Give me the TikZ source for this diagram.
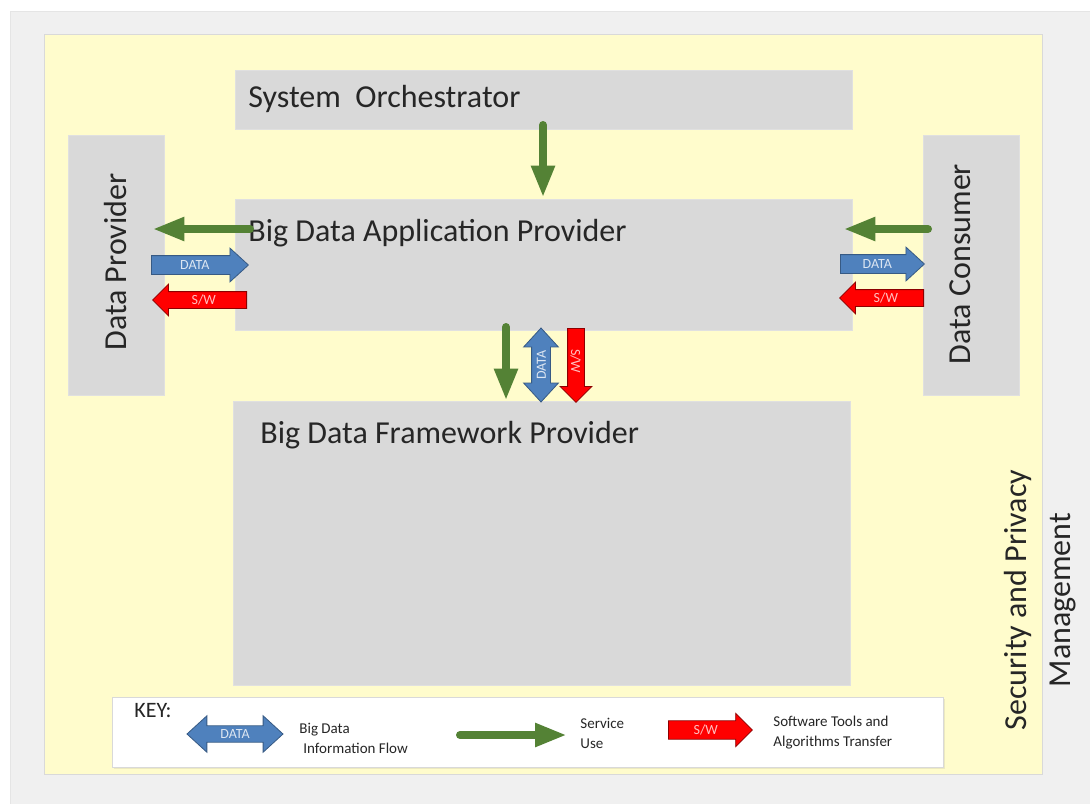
\documentclass[tikz,border=0pt]{standalone}
\usepackage{fontspec}
\setmainfont{Carlito}
\usetikzlibrary{shapes.arrows,arrows.meta,fit,shadows}
\definecolor{paper}{HTML}{F0F0F0}
\definecolor{secyellow}{HTML}{FFFCCC}
\definecolor{boxgray}{HTML}{D9D9D9}
\definecolor{svcgreen}{HTML}{548235}
\definecolor{datablue}{HTML}{4F81BD}
\definecolor{swred}{HTML}{FF0000}
\definecolor{ink}{HTML}{262626}
\tikzset{
  role/.style={draw=black!12, fill=boxgray, inner sep=0pt},
  roletitle/.style={anchor=west, inner sep=0pt, text=ink, font=\fontsize{16}{18}\selectfont},
  service/.style={draw=svcgreen, line width=4pt, line cap=round,
    -{Triangle[width=11pt,length=16pt]}},
  tagfont/.style={font=\fontsize{7}{8}\selectfont, text height=4.8pt, text depth=0pt,
    inner xsep=1pt},
  dataarrow/.style={single arrow, tagfont, draw=datablue!70!black, fill=datablue,
    text=white!80!datablue, single arrow tip angle=85, single arrow head extend=3.75pt,
    inner ysep=2.1pt},
  swarrow/.style={single arrow, tagfont, draw=swred!55!black, fill=swred,
    text=white!75!swred, single arrow tip angle=90, single arrow head extend=3.75pt,
    inner ysep=1.6pt},
  dataflow/.style={double arrow, tagfont, draw=datablue!70!black, fill=datablue,
    text=white!80!datablue, double arrow tip angle=85, double arrow head extend=4pt,
    inner ysep=2.1pt},
  keytext/.style={anchor=west, align=left, inner sep=0pt, text=ink,
    font=\fontsize{7.5}{10}\selectfont}
}
\begin{document}
\begin{tikzpicture}[x=0.5pt,y=-0.5pt]
\useasboundingbox (0,0) rectangle (1090,803);
\fill[white] (0,0) rectangle (1090,803);
\filldraw[fill=paper, draw=black!10] (10,11) rectangle (1095,810);
\filldraw[fill=secyellow, draw=black!15] (44,34) rectangle (1042,774);

% boxes
\node[role, fit={(235,70) (852,129)}] (orch) {};
\node[role, fit={(235,199) (852,330)}] (app) {};
\node[role, fit={(233,401) (850,685)}] (frame) {};
\node[role, fit={(68,135) (164,395)}] (provider) {};
\node[role, fit={(923,135) (1019,395)}] (consumer) {};

\node[roletitle] (orchname) at (248,99) {System\ \ Orchestrator};
\node[roletitle] (appname) at (248,233) {Big Data Application Provider};
\node[roletitle] (framename) at (260,435) {Big Data Framework Provider};
\node[roletitle, anchor=center, rotate=90] (providername) at (116,262) {Data Provider};
\node[roletitle, anchor=center, rotate=90] (consumername) at (960,264) {Data Consumer};
\node[rotate=90, align=center, text=ink, font=\fontsize{16}{22}\selectfont]
  (secname) at (1040,600) {Security and Privacy\\Management};

% service use
\coordinate (s1) at (543,125);
\coordinate (s2) at (250,229);
\coordinate (s3) at (928,229);
\coordinate (s4) at (506,327);
\draw[service] (s1) -- ([yshift=0.5pt]s1 |- app.north);
\draw[service] (s2) -- ([xshift=-6pt]s2 -| provider.east);
\draw[service] (s3) -- ([xshift=-4.5pt]s3 -| app.east);
\draw[service] (s4) -- (s4 |- frame.north);

% data and software
\node[dataarrow, anchor=tail, minimum height=48.5pt] (pdata) at (151,265) {DATA};
\node[swarrow, shape border rotate=180, anchor=tail, minimum height=47pt] (psw) at (247,300) {S/W};
\node[dataarrow, anchor=tail, minimum height=42pt] (cdata) at (840,264) {DATA};
\node[swarrow, shape border rotate=180, anchor=tail, minimum height=42pt] (csw) at (924,298) {S/W};
\node[dataflow, rotate=90, minimum height=37pt] (fdata) at (541,365) {DATA};
\node[swarrow, rotate=-90, anchor=tail, minimum height=37pt] (fsw) at (576,328) {S/W};

% key
\node[draw=black!15, fill=white, inner sep=0pt, drop shadow={opacity=0.15,shadow xshift=1pt,shadow yshift=-1pt},
  fit={(112,697) (943,767)}] (key) {};
\node[anchor=west, inner sep=0pt, text=ink, font=\fontsize{11}{12}\selectfont] (keyname) at (134,711) {KEY:};
\node[dataflow, minimum height=48pt, inner ysep=1.5pt, double arrow head extend=5pt] (kdata) at (235,734) {DATA};
\node[keytext] (kdatatext) at (299,738) {Big Data\\\hspace{2pt}Information Flow};
\coordinate (k1) at (460,735);
\draw[service] (k1) -- ++(107,0) coordinate (k2);
\node[keytext] (ksvctext) at (580,733) {Service\\Use};
\node[swarrow, anchor=tail, minimum height=42pt, inner ysep=2pt] (ksw) at (668,730) {S/W};
\node[keytext] (kswtext) at (773,732.5) {Software Tools and\\Algorithms Transfer};
\end{tikzpicture}
\end{document}
